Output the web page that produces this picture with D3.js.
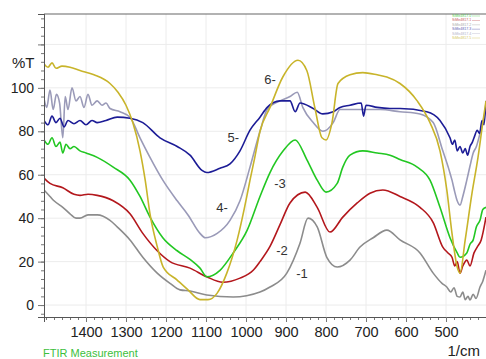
<!DOCTYPE html>
<html>
<head>
<meta charset="utf-8">
<script src="https://cdn.jsdelivr.net/npm/d3@7"></script>
<style>
  body { margin: 0; background: #fff; }
  svg { display: block; font-family: Arial, "Liberation Sans", sans-serif; }
</style>
</head>
<body>
<script>
// spectra: [wavenumber 1/cm, %T]
const spectrum1 = [[1505,53],[1490,50],[1480,48],[1458,45],[1440,42],[1425,40],[1415,40],[1395,41.5],[1372,41.5],[1340,39],[1322,36],[1290,30],[1258,22],[1222,14.7],[1190,10],[1165,7],[1140,6.5],[1098,4.6],[1032,3.7],[965,6],[940,8.3],[898,14.7],[865,28.5],[845,40],[822,36],[798,22],[772,17.5],[740,20.7],[715,26.7],[682,31],[648,34.5],[615,30],[565,24],[532,14.7],[510,10],[498,8.3],[488,6],[480,8],[472,4],[465,3.7],[458,6],[452,2.5],[445,4],[440,2.3],[432,5],[425,3],[415,8.3],[408,11],[400,16]];
const spectrum2 = [[1505,58.5],[1490,56],[1458,54],[1430,51],[1415,50.5],[1395,51],[1372,50.5],[1332,48],[1290,42],[1258,33],[1222,25],[1190,20],[1140,17],[1098,13],[1058,10.5],[1015,12.4],[982,16],[965,20],[940,27],[915,37],[890,47],[852,52],[822,45],[790,33.6],[758,40.5],[722,47],[690,51.5],[658,53],[615,50],[565,45],[532,38],[508,26.7],[495,24],[485,22],[478,18],[472,20],[465,14.7],[458,18],[448,20.7],[440,18],[430,24],[422,26.7],[412,30],[400,40.5]];
const spectrum3 = [[1505,76],[1495,74],[1485,77],[1475,73],[1465,75],[1458,70],[1450,74],[1440,72],[1430,73],[1415,71],[1400,70],[1372,68],[1332,63.5],[1290,57.5],[1265,50],[1240,40.5],[1208,31],[1172,25],[1140,21],[1115,17],[1098,13],[1065,16],[1032,24],[997,34.5],[965,50],[940,61],[907,71],[877,76],[848,67],[822,57.5],[800,52],[772,56],[758,63.5],[740,69],[708,71],[672,70],[640,69],[615,67],[572,63.5],[540,57.5],[515,45],[490,31],[472,24],[465,22],[448,24],[440,28],[432,30],[424,36],[415,39],[408,44],[400,45]];
const spectrum4 = [[1505,95],[1498,91],[1490,99],[1482,90],[1474,97],[1466,93],[1458,77],[1452,96],[1445,90],[1435,100],[1425,94],[1415,96],[1405,91],[1395,97],[1385,92],[1372,94],[1360,92],[1350,93],[1340,90.5],[1315,89],[1290,86.5],[1265,77],[1240,68],[1208,57.5],[1172,48],[1145,41.5],[1115,33],[1102,31],[1072,33],[1040,39],[1015,48],[990,63.5],[965,80],[947,90],[915,94],[890,96],[872,98],[858,91],[832,84],[808,80],[782,84],[765,90],[740,90],[710,90],[665,90],[615,89],[565,88],[532,84],[508,71],[492,62],[485,57.5],[478,52],[472,48],[465,46],[458,50],[448,57.5],[440,64],[432,70],[424,73],[415,79],[408,84],[400,91]];
const spectrum5 = [[1505,85],[1495,83],[1485,87],[1475,84],[1465,86],[1455,82],[1445,85],[1430,83.5],[1415,85],[1400,83],[1385,85],[1372,84],[1350,85],[1322,86.5],[1290,86],[1258,84],[1215,77],[1172,73],[1140,69],[1110,62],[1098,61],[1065,63],[1040,65],[1015,71],[990,80.5],[965,86.5],[947,91],[915,94],[890,94],[877,89],[865,93],[832,90.5],[808,88],[782,89],[765,91],[740,92],[712,93],[706,87],[700,92],[672,91],[640,90.5],[615,90.5],[548,89],[515,85],[490,77],[484,74],[478,76],[472,71],[465,73],[458,70],[452,72],[446,69],[440,73],[434,75],[428,78],[422,80.5],[416,79],[410,85],[405,83],[400,94]];
const spectrum6 = [[1505,111],[1495,109.5],[1485,111.5],[1475,109],[1460,110],[1440,109.5],[1415,108],[1380,106],[1340,102],[1320,98],[1300,92],[1283,84],[1265,71],[1252,57.5],[1240,42],[1222,27],[1207,17.5],[1172,11.5],[1145,7],[1115,2.5],[1095,2.5],[1072,5.5],[1048,14.7],[1022,30],[998,50],[990,57.5],[978,68],[965,80],[940,91],[908,105],[870,112.7],[848,108],[828,91],[810,77],[800,76],[785,84],[770,102],[740,106],[708,107],[672,106],[648,105],[615,102],[572,94],[540,84],[515,71],[498,53],[485,33],[472,17.5],[465,14.7],[452,30],[435,51.5],[420,68],[408,84],[400,94]];

const seriesNames = ["1", "2", "3", "4", "5", "6"];
const seriesData = [spectrum1, spectrum2, spectrum3, spectrum4, spectrum5, spectrum6];
const seriesColors = ["#8c8c8c", "#b3171c", "#22c722", "#9a9ab8", "#1c1c96", "#c8b42a"];
// curve labels: [wavenumber, %T, text]
const curveLabels = [[860, 12.5, "-1"], [910, 23, "-2"], [915, 54, "-3"], [1060, 43, "4-"], [1032, 75, "5-"], [940, 102, "6-"]];
const legendNames = ["SiMe4817.0", "SiMe4817.1", "SiMe4817.2", "SiMe4817.3", "SiMe4817.4", "SiMe4817.5"];
const legendColors = ["#22c722", "#b3171c", "#8c8c8c", "#1c1c96", "#9a9ab8", "#c8b42a"];
const xTicks = [1400, 1300, 1200, 1100, 1000, 900, 800, 700, 600, 500];
const yTicks = [0, 20, 40, 60, 80, 100];

const W = 486, H = 359;
const plot = { left: 44, top: 14, right: 486, bottom: 317 };

const svg = d3.select("body").append("svg").attr("width", W).attr("height", H);

const x = d3.scaleLinear().domain([1505, 400]).range([plot.left, plot.right]);
const y = d3.scaleLinear().domain([-5.5, 134]).range([plot.bottom, plot.top]);

// grid
svg.append("g")
  .selectAll("line")
  .data(d3.range(1400, 400, -100))
  .join("line")
  .attr("x1", (d) => x(d)).attr("x2", (d) => x(d))
  .attr("y1", plot.top).attr("y2", plot.bottom)
  .attr("stroke", "#ececec").attr("stroke-width", 1);
svg.append("g")
  .selectAll("line")
  .data(d3.range(0, 140, 20))
  .join("line")
  .attr("x1", plot.left).attr("x2", plot.right)
  .attr("y1", (d) => y(d)).attr("y2", (d) => y(d))
  .attr("stroke", "#ececec").attr("stroke-width", 1);

// clip + curves
svg.append("clipPath").attr("id", "clip")
  .append("rect")
  .attr("x", plot.left).attr("y", plot.top)
  .attr("width", plot.right - plot.left).attr("height", plot.bottom - plot.top);

const line = d3.line()
  .x((d) => x(d[0]))
  .y((d) => y(d[1]))
  .curve(d3.curveMonotoneX);

const curves = svg.append("g").attr("clip-path", "url(#clip)");
seriesData.forEach((data, i) => {
  curves.append("path")
    .datum(data)
    .attr("fill", "none")
    .attr("stroke", seriesColors[i])
    .attr("stroke-width", 1.6)
    .attr("stroke-linejoin", "round")
    .attr("d", line);
});

// curve labels
svg.append("g")
  .selectAll("text")
  .data(curveLabels)
  .join("text")
  .attr("x", (d) => x(d[0]))
  .attr("y", (d) => y(d[1]))
  .attr("text-anchor", "middle")
  .attr("font-size", 13)
  .attr("fill", "#333")
  .text((d) => d[2]);

// frame
svg.append("line")
  .attr("x1", plot.left).attr("x2", plot.right)
  .attr("y1", plot.top).attr("y2", plot.top)
  .attr("stroke", "#666").attr("stroke-width", 1.2);

// x axis
const xAxis = svg.append("g").attr("transform", `translate(0,${plot.bottom})`);
xAxis.call(d3.axisBottom(x).tickValues(d3.range(1500, 399, -20)).tickSize(3).tickFormat(""));
xAxis.append("g").call(d3.axisBottom(x).tickValues(xTicks).tickSize(5).tickPadding(5).tickFormat(d3.format("d")));
xAxis.selectAll("path.domain").attr("stroke", "#555");
xAxis.selectAll("line").attr("stroke", "#777");
xAxis.selectAll("text").attr("font-size", 14.5).attr("fill", "#222").attr("font-family", "Arial, 'Liberation Sans', sans-serif");

// y axis
const yAxis = svg.append("g").attr("transform", `translate(${plot.left},0)`);
yAxis.call(d3.axisLeft(y).tickValues(d3.range(-4, 134, 4)).tickSize(3).tickFormat(""));
yAxis.append("g").call(d3.axisLeft(y).tickValues([...yTicks, 120]).tickSize(6).tickPadding(4)
  .tickFormat((d) => (yTicks.includes(d) ? d : "")));
yAxis.selectAll("path.domain").attr("stroke", "#555");
yAxis.selectAll("line").attr("stroke", "#777");
yAxis.selectAll("text").attr("font-size", 14).attr("fill", "#222").attr("font-family", "Arial, 'Liberation Sans', sans-serif");

// axis titles
svg.append("text").attr("x", 12).attr("y", 68).attr("font-size", 15).attr("fill", "#222").text("%T");
svg.append("text").attr("x", 480).attr("y", 356).attr("text-anchor", "end").attr("font-size", 15).attr("fill", "#222").text("1/cm");
svg.append("text").attr("x", 43).attr("y", 357).attr("font-size", 11).attr("fill", "#3cc03c").text("FTIR Measurement");

// tiny legend
const legend = svg.append("g").attr("transform", "translate(452,17)");
legendNames.forEach((name, i) => {
  legend.append("text")
    .attr("x", 0).attr("y", i * 4.4)
    .attr("font-size", 3.6)
    .attr("fill", legendColors[i])
    .attr("opacity", 0.75)
    .text(name);
  legend.append("line")
    .attr("x1", 20).attr("x2", 28)
    .attr("y1", i * 4.4 - 1).attr("y2", i * 4.4 - 1)
    .attr("stroke", legendColors[i])
    .attr("stroke-width", 0.6)
    .attr("opacity", 0.5);
});
</script>
</body>
</html>
